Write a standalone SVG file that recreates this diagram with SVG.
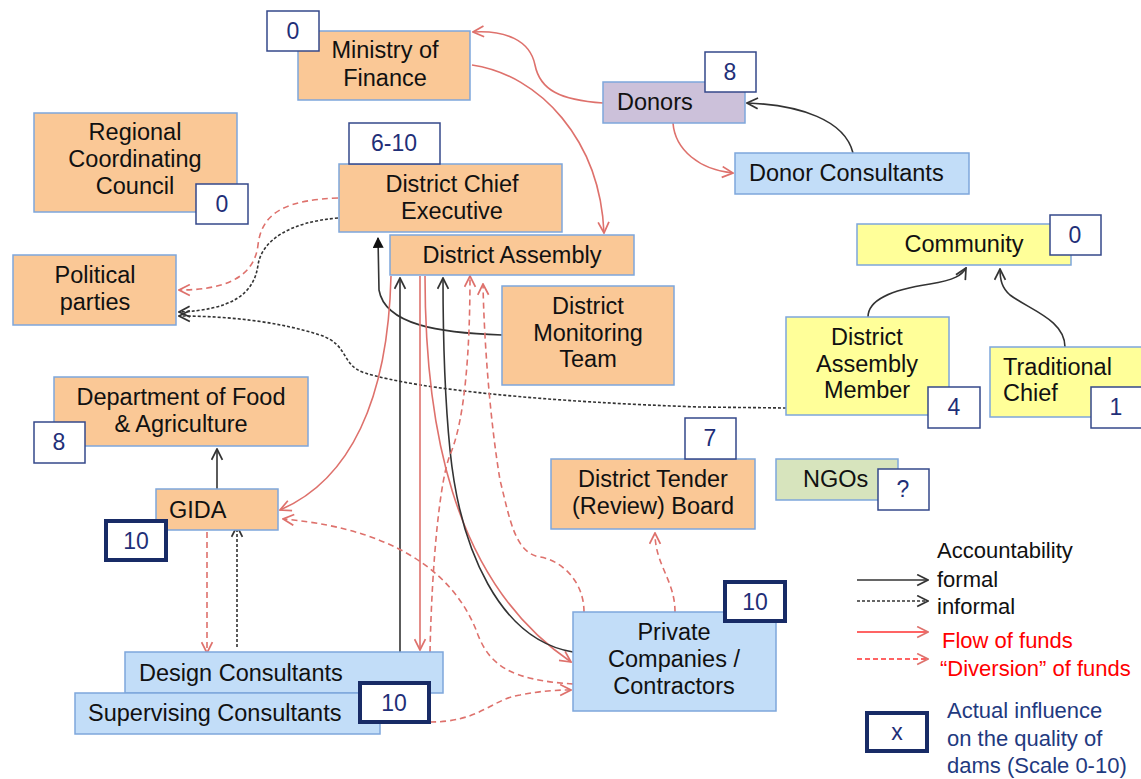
<svg xmlns="http://www.w3.org/2000/svg" width="1141" height="779" viewBox="0 0 1141 779">
<defs>
<style>
.n{stroke:#7EA6DB;stroke-width:1.5}
.or{fill:#FAC896}.bl{fill:#C2DDF8}.pu{fill:#CCC1DA}.ye{fill:#FFFF99}.gr{fill:#D7E4BD}
.t{font-family:"Liberation Sans",Arial,sans-serif;font-size:23.5px;fill:#111}
.c{text-anchor:middle}
.b{fill:#fff;stroke:#34488A;stroke-width:1.5}
.bk{fill:#fff;stroke:#182B66;stroke-width:4}
.bt{font-family:"Liberation Sans",Arial,sans-serif;font-size:23px;fill:#1F2F78;text-anchor:middle}
.k{fill:none;stroke:#333;stroke-width:1.6}
.kd{fill:none;stroke:#333;stroke-width:1.6;stroke-dasharray:3 2}
.r{fill:none;stroke:#DE716C;stroke-width:1.6}
.rd{fill:none;stroke:#DE716C;stroke-width:1.6;stroke-dasharray:6 4}
.lg{font-family:"Liberation Sans",Arial,sans-serif;font-size:22px}
</style>
<marker id="ak" viewBox="0 0 12 12" refX="11" refY="6" markerWidth="13" markerHeight="13" markerUnits="userSpaceOnUse" orient="auto"><path d="M1,1 L11,6 L1,11" fill="none" stroke="#333" stroke-width="1.6"/></marker>
<marker id="ar" viewBox="0 0 12 12" refX="11" refY="6" markerWidth="13" markerHeight="13" markerUnits="userSpaceOnUse" orient="auto"><path d="M1,1 L11,6 L1,11" fill="none" stroke="#DE716C" stroke-width="1.6"/></marker>
<marker id="af" viewBox="0 0 10 10" refX="9" refY="5" markerWidth="11" markerHeight="11" markerUnits="userSpaceOnUse" orient="auto"><path d="M0,0 L10,5 L0,10 Z" fill="#111"/></marker>
</defs>
<rect width="1141" height="779" fill="#fff"/>
<g id="connectors">
<path class="r" marker-end="url(#ar)" d="M603,103 C560,100 540,90 535,65 C530,40 505,30 473,32"/>
<path class="r" marker-end="url(#ar)" d="M472,65 C540,75 600,140 604,233"/>
<path class="r" marker-end="url(#ar)" d="M673,123 C675,150 700,170 733,173"/>
<path class="k" marker-end="url(#ak)" d="M853,153 C845,120 800,105 747,103"/>
<path class="rd" marker-end="url(#ar)" d="M338,198 C290,200 262,210 258,245 C254,280 220,290 179,290"/>
<path class="kd" marker-end="url(#ak)" d="M338,218 C290,222 262,240 258,265 C254,295 230,310 179,312"/>
<path class="kd" marker-end="url(#ak)" d="M786,408 L700,407 C550,402 420,390 365,373 C340,365 350,345 320,335 C280,322 230,316 179,316"/>
<path class="k" marker-end="url(#af)" d="M502,335 C440,333 385,325 379,290 L378,238"/>
<path class="k" marker-end="url(#ak)" d="M400,652 L400,278"/>
<path class="r" marker-end="url(#ar)" d="M420,276 L420,650"/>
<path class="r" marker-end="url(#ar)" d="M391,276 C388,400 350,480 280,510"/>
<path class="r" marker-end="url(#ar)" d="M425,276 C425,420 450,580 571,662"/>
<path class="k" marker-end="url(#ak)" d="M573,652 C500,640 460,550 450,450 C445,400 443,330 443,278"/>
<path class="rd" marker-end="url(#ar)" d="M430,652 C432,560 440,480 450,455 C465,420 470,350 470,276"/>
<path class="rd" marker-end="url(#ar)" d="M584,612 C584,580 560,560 540,557 C515,553 510,520 500,480 C490,420 484,340 483,284"/>
<path class="rd" marker-end="url(#ar)" d="M573,684 C510,680 490,665 478,635 C460,585 410,530 283,519"/>
<path class="rd" marker-end="url(#ar)" d="M430,722 C480,722 490,700 520,695 C540,691 555,690 571,690"/>
<path class="rd" marker-end="url(#ar)" d="M675,612 C675,580 655,565 655,533"/>
<path class="k" marker-end="url(#ak)" d="M217,489 L217,449"/>
<path class="rd" marker-end="url(#ar)" d="M207,532 L207,653"/>
<path class="kd" marker-end="url(#ak)" d="M237,647 L237,526"/>
<path class="k" marker-end="url(#ak)" d="M868,317 C868,300 890,290 930,284 C955,280 962,275 966,268"/>
<path class="k" marker-end="url(#ak)" d="M1065,347 C1065,320 1030,310 1010,295 C1002,288 1000,280 1000,269"/>
</g>
<g id="ministry-of-finance"><rect class="n or" x="298" y="31" width="172" height="69"/><text class="t c" x="385" y="58">Ministry of</text><text class="t c" x="385" y="86">Finance</text><rect class="b" x="267" y="11" width="52" height="40"/><text class="bt" x="293" y="39">0</text></g>
<g id="donors"><rect class="n pu" x="603" y="82" width="142" height="41"/><text class="t" x="617" y="110">Donors</text><rect class="b" x="705" y="52" width="51" height="40"/><text class="bt" x="730" y="80">8</text></g>
<g id="donor-consultants"><rect class="n bl" x="735" y="153" width="234" height="41"/><text class="t" x="749" y="181">Donor Consultants</text></g>
<g id="regional-coordinating-council"><rect class="n or" x="34" y="113" width="203" height="99"/><text class="t c" x="135" y="140">Regional</text><text class="t c" x="135" y="167">Coordinating</text><text class="t c" x="135" y="194">Council</text><rect class="b" x="196" y="184" width="52" height="40"/><text class="bt" x="222" y="212">0</text></g>
<g id="district-chief-executive"><rect class="n or" x="339" y="164" width="223" height="68"/><text class="t c" x="452" y="192">District Chief</text><text class="t c" x="452" y="219">Executive</text><rect class="b" x="349" y="123" width="91" height="41"/><text class="bt" x="394" y="151">6-10</text></g>
<g id="district-assembly"><rect class="n or" x="390" y="235" width="244" height="40"/><text class="t c" x="512" y="263">District Assembly</text></g>
<g id="political-parties"><rect class="n or" x="13" y="255" width="163" height="70"/><text class="t c" x="95" y="283">Political</text><text class="t c" x="95" y="310">parties</text></g>
<g id="district-monitoring-team"><rect class="n or" x="502" y="286" width="172" height="99"/><text class="t c" x="588" y="314">District</text><text class="t c" x="588" y="341">Monitoring</text><text class="t c" x="588" y="367">Team</text></g>
<g id="community"><rect class="n ye" x="857" y="224" width="214" height="41"/><text class="t c" x="964" y="252">Community</text><rect class="b" x="1050" y="215" width="51" height="40"/><text class="bt" x="1075" y="243">0</text></g>
<g id="district-assembly-member"><rect class="n ye" x="786" y="317" width="163" height="98"/><text class="t c" x="867" y="345">District</text><text class="t c" x="867" y="372">Assembly</text><text class="t c" x="867" y="398">Member</text><rect class="b" x="928" y="387" width="52" height="41"/><text class="bt" x="954" y="415">4</text></g>
<g id="traditional-chief"><rect class="n ye" x="990" y="347" width="152" height="70"/><text class="t" x="1003" y="375">Traditional</text><text class="t" x="1003" y="401">Chief</text><rect class="b" x="1091" y="387" width="51" height="41"/><text class="bt" x="1116" y="415">1</text></g>
<g id="department-of-food-agriculture"><rect class="n or" x="54" y="377" width="254" height="69"/><text class="t c" x="181" y="405">Department of Food</text><text class="t c" x="181" y="432">&amp; Agriculture</text><rect class="b" x="34" y="422" width="51" height="41"/><text class="bt" x="59" y="450">8</text></g>
<g id="gida"><rect class="n or" x="156" y="489" width="122" height="41"/><text class="t" x="169" y="518">GIDA</text><rect class="bk" x="106" y="521" width="60" height="39"/><text class="bt" x="136" y="549">10</text></g>
<g id="district-tender-board"><rect class="n or" x="551" y="459" width="204" height="70"/><text class="t c" x="653" y="487">District Tender</text><text class="t c" x="653" y="514">(Review) Board</text><rect class="b" x="685" y="418" width="51" height="41"/><text class="bt" x="710" y="446">7</text></g>
<g id="ngos"><rect class="n gr" x="776" y="459" width="122" height="41"/><text class="t" x="803" y="487">NGOs</text><rect class="b" x="878" y="469" width="51" height="41"/><text class="bt" x="903" y="497">?</text></g>
<g id="private-companies"><rect class="n bl" x="573" y="612" width="203" height="99"/><text class="t c" x="674" y="640">Private</text><text class="t c" x="674" y="667">Companies /</text><text class="t c" x="674" y="694">Contractors</text><rect class="bk" x="725" y="582" width="60" height="39"/><text class="bt" x="755" y="610">10</text></g>
<g id="design-consultants"><rect class="n bl" x="125" y="652" width="318" height="41"/><text class="t" x="139" y="681">Design Consultants</text></g>
<g id="supervising-consultants"><rect class="n bl" x="75" y="693" width="305" height="41"/><text class="t" x="88" y="721">Supervising Consultants</text><rect class="bk" x="360" y="683" width="69" height="39"/><text class="bt" x="394" y="711">10</text></g>
<g id="legend">
<text class="lg" x="937" y="558" fill="#111">Accountability</text>
<line class="k" marker-end="url(#ak)" x1="857" y1="580" x2="928" y2="580"/>
<text class="lg" x="937" y="587" fill="#111">formal</text>
<line class="kd" marker-end="url(#ak)" x1="857" y1="601" x2="928" y2="601"/>
<text class="lg" x="937" y="614" fill="#111">informal</text>
<line x1="857" y1="632" x2="928" y2="632" stroke="#FF3030" stroke-width="1.6" marker-end="url(#ar)"/>
<text class="lg" x="942" y="648" fill="#FF0000">Flow of funds</text>
<line x1="857" y1="659" x2="928" y2="659" stroke="#FF3030" stroke-width="1.6" stroke-dasharray="5 3" marker-end="url(#ar)"/>
<text class="lg" x="940" y="676" fill="#FF0000">“Diversion” of funds</text>
<rect class="bk" x="867" y="713" width="60" height="38"/><text class="bt" x="897" y="740" font-size="20">x</text>
<text class="lg" x="947" y="718" fill="#1F3A80">Actual influence</text>
<text class="lg" x="947" y="746" fill="#1F3A80">on the quality of</text>
<text class="lg" x="947" y="773" fill="#1F3A80">dams (Scale 0-10)</text>
</g>
</svg>
